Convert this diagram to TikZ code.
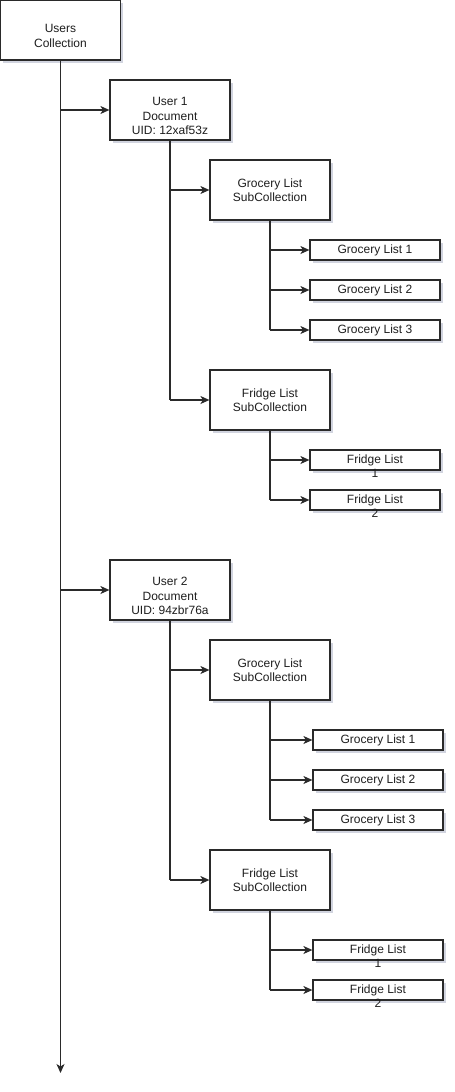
\documentclass[tikz,border=0pt]{standalone}
\usepackage{fontspec}
\setmainfont{Liberation Sans}
\usetikzlibrary{arrows.meta,shadows}
\definecolor{ln}{HTML}{2A2A2A}
\definecolor{tx}{HTML}{1E1E1E}
\definecolor{sh}{HTML}{9AA0B8}
\begin{document}
\begin{tikzpicture}[x=1pt,y=-1pt,
  box/.style={draw=ln,line width=1.2pt,fill=white,inner sep=0pt,
    drop shadow={shadow xshift=2.5pt,shadow yshift=-3pt,opacity=0.45,fill=sh}},
  big/.style={box,minimum width=120pt,minimum height=60pt},
  small/.style={box,minimum width=130pt,minimum height=20pt},
  txt/.style={text=tx,align=center,inner sep=0pt,font=\fontsize{12}{14.5}\selectfont},
  con/.style={draw=ln,line width=1.3pt},
  arr/.style={con,-{Stealth[length=9pt,width=8pt,inset=2.5pt]}}]
\useasboundingbox (0,0) rectangle (455,1092);
% top
\node[big] (uc) at (60.5,30) {};
\node[txt] (uct) at ([yshift=-6pt]uc.center) {Users\\Collection};
\coordinate (end) at (60.5,1073);
\draw[arr] (uc.south) -- (end);
% user 1
\node[big] (u1) at (170,110) {};
\node[txt] (u1t) at ([yshift=-6pt]u1.center) {User 1\\Document\\UID: 12xaf53z};
\draw[arr] (uc.south |- u1.west) -- (u1.west);
\node[big,txt] (g1) at (270,190) {Grocery List\\SubCollection};
\node[big,txt] (f1) at (270,400) {Fridge List\\SubCollection};
\draw[con] (u1.south) -- (u1.south |- f1.west);
\draw[arr] (u1.south |- g1.west) -- (g1.west);
\draw[arr] (u1.south |- f1.west) -- (f1.west);
\node[small,txt] (g1a) at (375,250) {Grocery List 1};
\node[small,txt] (g1b) at (375,290) {Grocery List 2};
\node[small,txt] (g1c) at (375,330) {Grocery List 3};
\draw[con] (g1.south) -- (g1.south |- g1c.west);
\foreach \n in {g1a,g1b,g1c} \draw[arr] (g1.south |- \n.west) -- (\n.west);
\node[small] (f1a) at (375,460) {};
\node[txt] (f1at) at ([yshift=-6pt]f1a.center) {Fridge List\\1};
\node[small] (f1b) at (375,500) {};
\node[txt] (f1bt) at ([yshift=-6pt]f1b.center) {Fridge List\\2};
\draw[con] (f1.south) -- (f1.south |- f1b.west);
\foreach \n in {f1a,f1b} \draw[arr] (f1.south |- \n.west) -- (\n.west);
% user 2
\node[big] (u2) at (170,590) {};
\node[txt] (u2t) at ([yshift=-6pt]u2.center) {User 2\\Document\\UID: 94zbr76a};
\draw[arr] (uc.south |- u2.west) -- (u2.west);
\node[big,txt] (g2) at (270,670) {Grocery List\\SubCollection};
\node[big,txt] (f2) at (270,880) {Fridge List\\SubCollection};
\draw[con] (u2.south) -- (u2.south |- f2.west);
\draw[arr] (u2.south |- g2.west) -- (g2.west);
\draw[arr] (u2.south |- f2.west) -- (f2.west);
\node[small,txt] (g2a) at (378,740) {Grocery List 1};
\node[small,txt] (g2b) at (378,780) {Grocery List 2};
\node[small,txt] (g2c) at (378,820) {Grocery List 3};
\draw[con] (g2.south) -- (g2.south |- g2c.west);
\foreach \n in {g2a,g2b,g2c} \draw[arr] (g2.south |- \n.west) -- (\n.west);
\node[small] (f2a) at (378,950) {};
\node[txt] (f2at) at ([yshift=-6pt]f2a.center) {Fridge List\\1};
\node[small] (f2b) at (378,990) {};
\node[txt] (f2bt) at ([yshift=-6pt]f2b.center) {Fridge List\\2};
\draw[con] (f2.south) -- (f2.south |- f2b.west);
\foreach \n in {f2a,f2b} \draw[arr] (f2.south |- \n.west) -- (\n.west);
\end{tikzpicture}
\end{document}
